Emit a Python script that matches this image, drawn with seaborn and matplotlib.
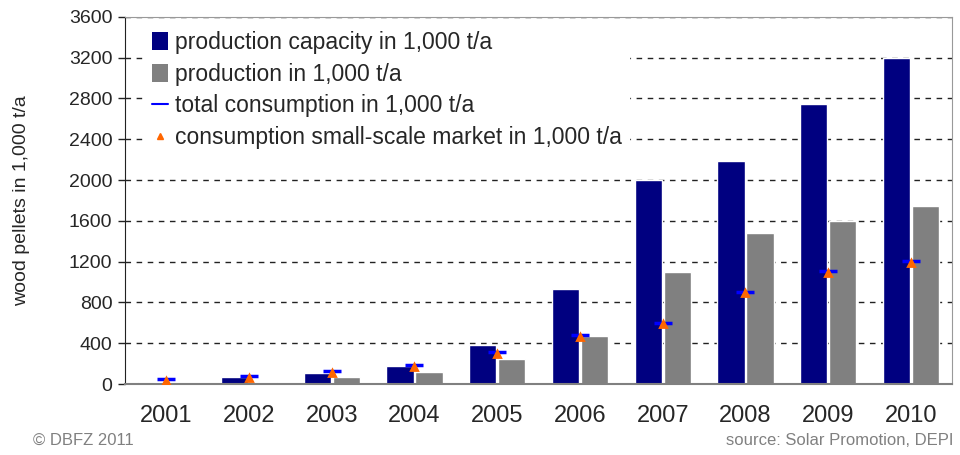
import pandas as pd
import matplotlib.pyplot as plt
import seaborn as sns
from matplotlib.patches import Patch
from matplotlib.lines import Line2D

# values (1,000 t/a)
years = ["2001", "2002", "2003", "2004", "2005", "2006", "2007", "2008", "2009", "2010"]
capacity = [20, 70, 110, 180, 380, 930, 2000, 2190, 2750, 3200]
production = [5, 20, 70, 120, 250, 470, 1100, 1480, 1600, 1750]
total_consumption = [45, 75, 125, 185, 310, 480, 600, 900, 1105, 1205]
small_scale = [30, 60, 110, 170, 290, 460, 585, 890, 1090, 1190]

labels = ["production capacity in 1,000 t/a", "production in 1,000 t/a",
          "total consumption in 1,000 t/a", "consumption small-scale market in 1,000 t/a"]

sns.set_style("white")
plt.rcParams['font.family'] = ['Liberation Sans', 'DejaVu Sans']

# long format for the grouped bars
df_bars = pd.DataFrame({
    "year": years * 2,
    "value": capacity + production,
    "series": [labels[0]] * len(years) + [labels[1]] * len(years),
})

fig = plt.figure(figsize=(9.6, 4.55), dpi=100)
ax = fig.add_axes([0.130, 0.156, 0.862, 0.807])

sns.barplot(data=df_bars, x="year", y="value", hue="series", order=years,
            palette=["#000080", "#808080"], width=0.7, gap=0.06,
            saturation=1, legend=False, ax=ax, zorder=2)

# consumption markers sit in the middle of each year group
sns.pointplot(x=years, y=total_consumption, order=years, color="#0000FF",
              markers="_", linestyles="none", errorbar=None,
              markersize=13, markeredgewidth=2.5, ax=ax, zorder=4)
sns.pointplot(x=years, y=small_scale, order=years, color="#FF6600",
              markers="^", linestyles="none", errorbar=None,
              markersize=4.5, ax=ax, zorder=5)

ax.set_ylim(0, 3600)
ax.set_xlim(-0.5, len(years) - 0.5)
ax.set_yticks(range(0, 3601, 400))
ax.yaxis.grid(True, linestyle=(0, (4, 4)), color="#222222", linewidth=1)
ax.set_axisbelow(True)

# ticks between the year groups
ax.set_xticks([i - 0.5 for i in range(len(years) + 1)], minor=True)
ax.tick_params(axis="x", which="major", length=0, pad=15, labelsize=17)
ax.tick_params(axis="x", which="minor", length=6, width=1, color="#222222", direction="out")
ax.tick_params(axis="y", length=5, width=1, color="#222222", direction="out", labelsize=14, pad=4)
ax.tick_params(left=True, bottom=False)
ax.set_xlabel("")
ax.set_ylabel("wood pellets in 1,000 t/a", fontsize=14, labelpad=28)

ax.spines["left"].set_color("#222222")
ax.spines["bottom"].set_color("#808080")
ax.spines["bottom"].set_linewidth(1.5)
for s in ["top", "right"]:
    ax.spines[s].set_color("#999999")

handles = [
    Patch(facecolor="#000080", edgecolor="none"),
    Patch(facecolor="#808080", edgecolor="none"),
    Line2D([], [], color="#0000FF", linewidth=1.5),
    Line2D([], [], color="#FF6600", marker="^", linestyle="none", markersize=5),
]
leg = ax.legend(handles, labels, loc="upper left", bbox_to_anchor=(0.025, 0.98),
                fontsize=16.5, frameon=True, framealpha=1, edgecolor="white",
                handlelength=0.7, handleheight=0.8, handletextpad=0.3,
                labelspacing=0.38, borderpad=0.3, borderaxespad=0.0)
leg.set_zorder(10)

fig.text(0.034, 0.022, "\u00a9 DBFZ 2011", fontsize=12, color="#808080", ha="left")
fig.text(0.993, 0.022, "source: Solar Promotion, DEPI", fontsize=12, color="#808080", ha="right")

plt.savefig("out.png", dpi=100)
